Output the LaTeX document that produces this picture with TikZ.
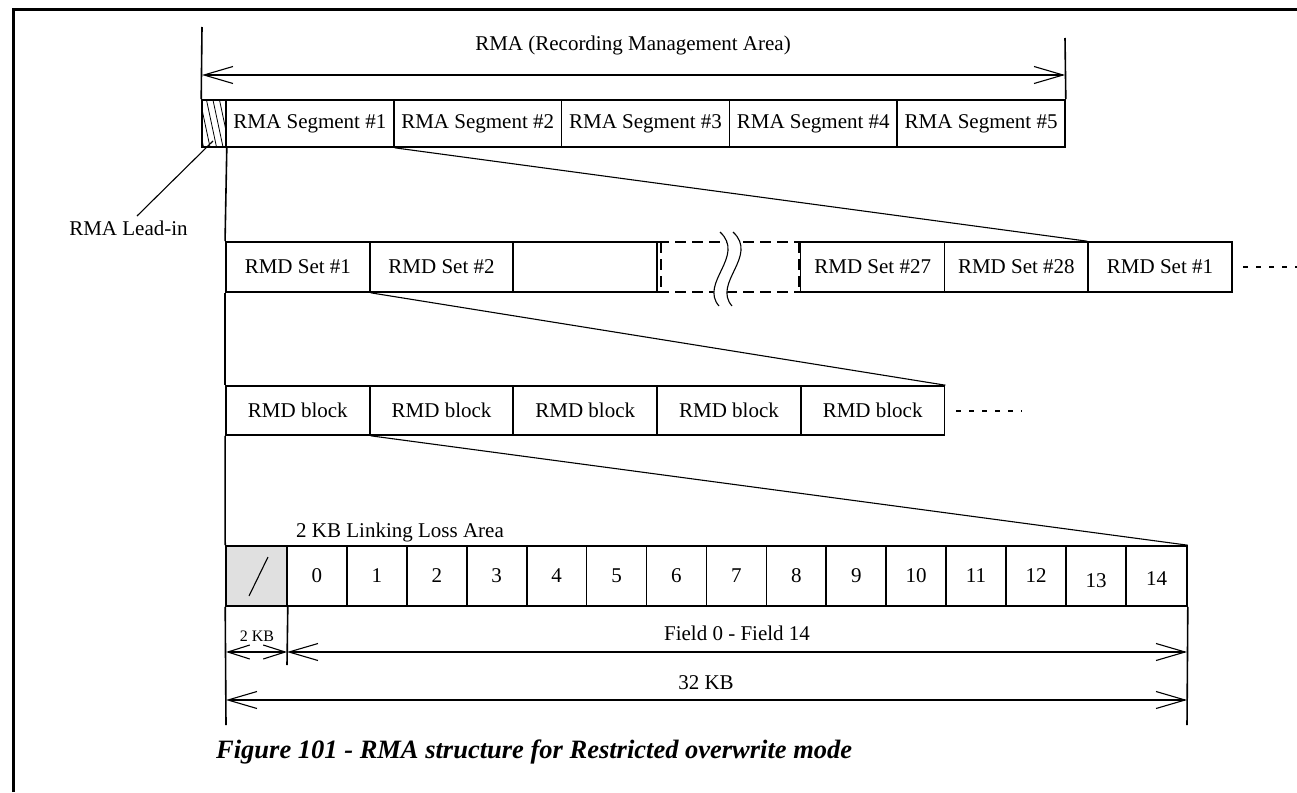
\documentclass[tikz,border=0pt]{standalone}
\usepackage{fontspec}
\setmainfont{Liberation Serif}
\usetikzlibrary{arrows.meta}
\begin{document}
\begin{tikzpicture}[x=1pt,y=-1pt,
  txt/.style={font=\fontsize{21}{25}\selectfont, inner sep=0pt},
  smalltxt/.style={font=\fontsize{16}{19}\selectfont, inner sep=0pt},
  box/.style={draw, line width=1.6pt, inner sep=0pt, font=\fontsize{21}{25}\selectfont},
  thin/.style={line width=1.1pt},
  dim/.style={line width=1.6pt, {Straight Barb[length=29pt,width=17pt,line width=1.1pt]}-{Straight Barb[length=29pt,width=17pt,line width=1.1pt]}},
  smalldim/.style={line width=1.6pt, {Straight Barb[length=22pt,width=14pt,line width=1.1pt]}-{Straight Barb[length=22pt,width=14pt,line width=1.1pt]}},
  dotline/.style={line width=1.3pt, dash pattern=on 5pt off 8pt}
]
\useasboundingbox (0,0) rectangle (1297,792);
% frame
\coordinate (f1) at (13,792);
\coordinate (f2) at (13,10);
\coordinate (f3) at (1297,10);
\draw[line width=3pt] (f1) -- (f2) -- (f3);

% ---------- row 1 ----------
\node[box, minimum width=24pt, minimum height=47pt,
  path picture={\foreach \k in {-2,...,3}{\draw[line width=0.8pt] ([xshift=\k*6.5pt-2pt]path picture bounding box.north west) -- ++(10pt,-47pt);}}] (lead) at (214,123.5) {};
\foreach \i/\t in {1/RMA Segment \#1,2/RMA Segment \#2,3/RMA Segment \#3,4/RMA Segment \#4,5/RMA Segment \#5}
  \node[box, minimum width=167.8pt, minimum height=47pt] (s\i) at ({226+167.8*(\i-0.5)},123.5) {\t};

\coordinate (t1) at (202,27);
\coordinate (t2) at (1065,38);
\draw[line width=1.6pt] (t1) -- (lead.north west);
\draw[line width=1.6pt] (t2) -- (s5.north east);
\coordinate (a1) at (202,75);
\coordinate (a2) at (1065,75);
\draw[dim] (a1) -- (a2);
\node[txt] (rmatitle) at (633,45) {RMA (Recording Management Area)};

% lead-in label
\node[txt] (leadlbl) at (128.5,228) {RMA Lead-in};
\coordinate (l1) at (137,216);
\coordinate (l2) at (213,141);
\draw[thin] (l1) -- (l2);

% ---------- row 2 ----------
\foreach \i/\t in {1/RMD Set \#1,2/RMD Set \#2,3/{},5/RMD Set \#27,6/RMD Set \#28,7/RMD Set \#1}
  \node[box, minimum width=144pt, minimum height=50pt] (r\i) at ({226+143.7*(\i-0.5)},267) {\t};
\coordinate (g1) at (658,242);
\coordinate (g2) at (802,242);
\coordinate (g3) at (658,292);
\coordinate (g4) at (802,292);
\draw[line width=1.6pt, dash pattern=on 11pt off 6pt] (g1) -- (g2);
\draw[line width=1.6pt, dash pattern=on 11pt off 6pt] (g3) -- (g4);
\draw[line width=1.6pt, dash pattern=on 11pt off 6pt] (g1) ++(3,0) -- ++(0,50);
\draw[line width=1.6pt, dash pattern=on 11pt off 6pt] (g2) ++(-3,0) -- ++(0,50);
\coordinate (w1) at (720,232);
\coordinate (w2) at (719,306);
\coordinate (w3) at (733,232);
\coordinate (w4) at (732,306);
\draw[fill=white, draw=white] (w1) .. controls (746,256) and (699,283) .. (w2) -- (w4) .. controls (712,283) and (759,256) .. (w3) -- cycle;
\draw[thin] (w1) .. controls (746,256) and (699,283) .. (w2);
\draw[thin] (w3) .. controls (759,256) and (712,283) .. (w4);
\coordinate (d1) at (1243,267);
\coordinate (d2) at (1297,267);
\draw[dotline] (d1) -- (d2);

\draw[thin] (s1.south east) -- (r7.north west);
\draw[line width=1.6pt] (lead.south east) -- (r1.north west);

% ---------- row 3 ----------
\foreach \i in {1,...,5}
  \node[box, minimum width=144pt, minimum height=49pt] (b\i) at ({226+143.7*(\i-0.5)},410.5) {RMD block};
\coordinate (d3) at (956,411);
\coordinate (d4) at (1022,411);
\draw[dotline] (d3) -- (d4);
\draw[thin] (r1.south east) -- (b5.north east);
\draw[line width=1.6pt] (r1.south west) -- (b1.north west);

% ---------- row 4 ----------
\node[box, fill=black!12, minimum width=61pt, minimum height=60pt] (ll) at (256.5,576) {};
\foreach \i in {0,...,12}
  \node[box, minimum width=60pt, minimum height=60pt] (c\i) at ({287+59.92*(\i+0.5)},576) {\i};
\node[box, minimum width=60pt, minimum height=60pt] (c13) at (1096,576) {};
\node[box, minimum width=61pt, minimum height=60pt] (c14) at (1156.5,576) {};
\node[txt] (n13) at (1096,581) {13};
\node[txt] (n14) at (1156.5,579) {14};

\draw[thin] (b1.south east) -- (c14.north east);
\draw[line width=1.6pt] (b1.south west) -- (ll.north west);

\node[txt, anchor=west] (llalbl) at (296,532) {2 KB Linking Loss Area};
\coordinate (k1) at (249,596);
\coordinate (k2) at (268,557);
\draw[thin] (k1) -- (k2);

% dimension lines
\coordinate (v1) at (226,725);
\coordinate (v2) at (1187,725);
\coordinate (v3) at (287,665);
\draw[line width=1.6pt] (ll.south west) -- (v1);
\draw[line width=1.6pt] (c14.south east) -- (v2);
\draw[line width=1.6pt] (ll.south east) -- (v3);

\coordinate (p1) at (226,652);
\coordinate (p2) at (287,652);
\coordinate (p3) at (1187,652);
\coordinate (p4) at (226,700);
\coordinate (p5) at (1187,700);
\draw[smalldim] (p1) -- (p2);
\draw[dim] (p2) -- (p3);
\draw[dim] (p4) -- (p5);
\node[smalltxt] (kb2) at (257,636) {2 KB};
\node[txt] (fld) at (737,633) {Field 0 - Field 14};
\node[txt] (kb32) at (706,683) {32 KB};

% caption
\node[anchor=base west, inner sep=0pt, font=\bfseries\itshape\fontsize{26.5}{31}\selectfont] (cap) at (216,758) {Figure 101 - RMA structure for Restricted overwrite mode};
\end{tikzpicture}
\end{document}
